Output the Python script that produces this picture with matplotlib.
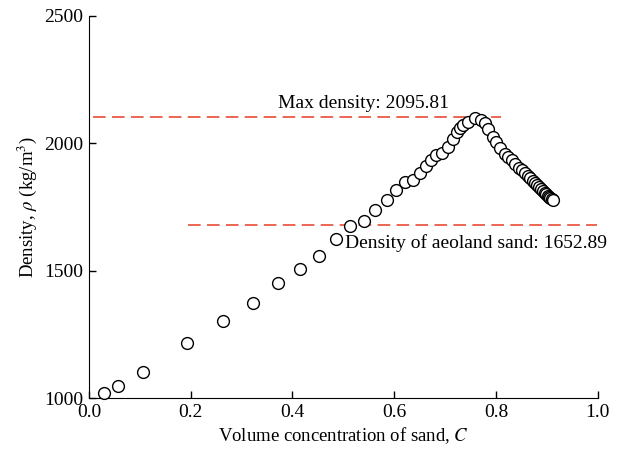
import matplotlib
matplotlib.use('Agg')
from matplotlib import pyplot as plt

# volume concentration of sand and mixture density
conc = [0.030, 0.058, 0.107, 0.193, 0.263, 0.322, 0.372, 0.415, 0.452, 0.485,
        0.513, 0.540, 0.563, 0.585, 0.604, 0.621, 0.637, 0.650, 0.662, 0.673,
        0.683, 0.694, 0.706, 0.716, 0.724, 0.730, 0.736, 0.744, 0.758, 0.771,
        0.778, 0.785, 0.794, 0.800, 0.808, 0.817, 0.824, 0.831, 0.838, 0.845,
        0.851, 0.857, 0.862, 0.867, 0.872, 0.877, 0.881, 0.885, 0.889, 0.893,
        0.896, 0.899, 0.902, 0.905, 0.907, 0.909, 0.911]
density = [1021, 1047, 1101, 1218, 1301, 1375, 1450, 1508, 1557, 1625,
           1675, 1697, 1740, 1777, 1816, 1849, 1858, 1882, 1912, 1934,
           1954, 1962, 1986, 2019, 2045, 2062, 2073, 2084, 2098, 2091,
           2078, 2056, 2026, 2005, 1980, 1960, 1946, 1933, 1919, 1905,
           1894, 1882, 1872, 1863, 1853, 1843, 1835, 1828, 1820, 1812,
           1806, 1800, 1795, 1789, 1785, 1781, 1777]

max_label = 'Max density: 2095.81'
sand_label = 'Density of aeoland sand: 1652.89'
max_line_y = 2103
sand_line_y = 1679

plt.rcParams['font.family'] = ['Liberation Serif', 'DejaVu Serif']
plt.rcParams['mathtext.fontset'] = 'stix'

fig = plt.figure(figsize=(6.26, 4.57), dpi=100)
ax = fig.add_axes([0.142, 0.129, 0.813, 0.836])

red = '#e85a45'
ax.plot([0.008, 0.81], [max_line_y, max_line_y], color=red, lw=1.3,
        dashes=(7, 3.5), clip_on=False, zorder=1)
ax.plot([0.195, 0.998], [sand_line_y, sand_line_y], color=red, lw=1.3,
        dashes=(7, 3.5), clip_on=False, zorder=1)

ax.plot(conc, density, 'o', mfc='white', mec='black', mew=1.0, ms=8.5,
        clip_on=False, zorder=3)

ax.text(0.371, 2138, max_label, fontsize=14, va='baseline')
ax.text(0.503, 1589, sand_label, fontsize=14, va='baseline')

ax.set_xlim(0, 1.0)
ax.set_ylim(1000, 2500)
ax.set_xticks([0.0, 0.2, 0.4, 0.6, 0.8, 1.0])
ax.set_yticks([1000, 1500, 2000, 2500])
ax.spines['top'].set_visible(False)
ax.spines['right'].set_visible(False)
ax.tick_params(direction='in', length=5, labelsize=14, width=1, pad=4)
ax.set_xlabel('Volume concentration of sand, $C$', fontsize=13.5, labelpad=3)
ax.set_ylabel('Density, $\\rho$ (kg/m$^3$)', fontsize=13.5, labelpad=4)

plt.savefig('out.png', dpi=100)
